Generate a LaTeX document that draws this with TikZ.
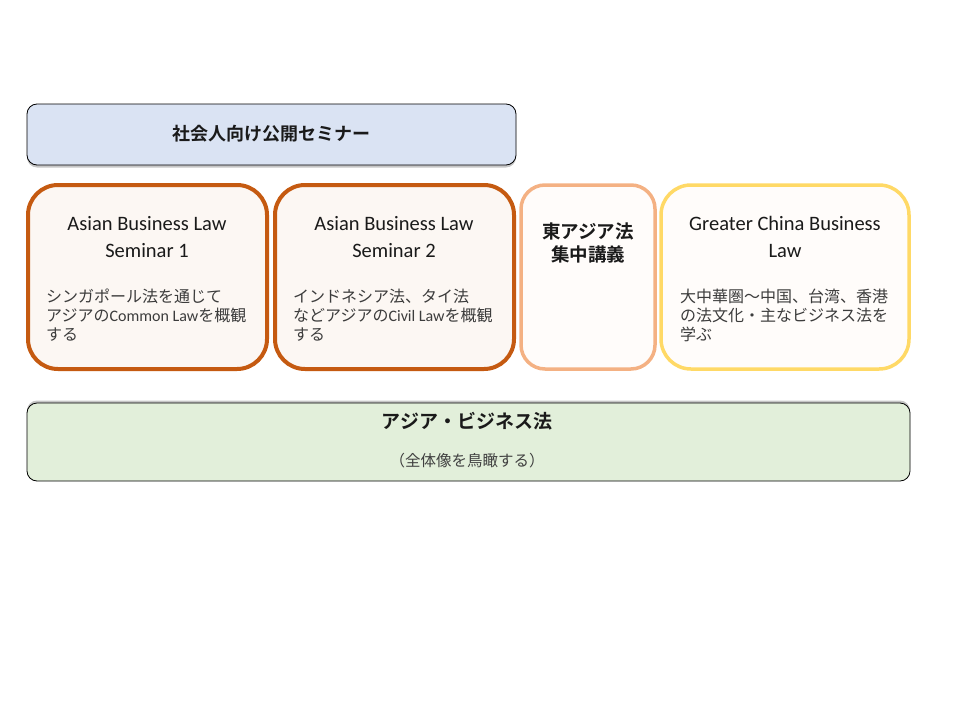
\documentclass[tikz,border=0pt]{standalone}
\usepackage{fontspec}
\setmainfont{Carlito}
\newfontfamily\jp{Noto Sans CJK JP}[BoldFont={Noto Sans CJK JP Bold}]
\usetikzlibrary{shadows}
\definecolor{topfill}{HTML}{DAE3F3}
\definecolor{botfill}{HTML}{E2EFDA}
\definecolor{brown}{HTML}{C55A11}
\definecolor{salmon}{HTML}{F4B183}
\definecolor{gold}{HTML}{FFD966}
\definecolor{warm}{HTML}{FCF7F3}
\definecolor{warmer}{HTML}{FFFCFA}
\definecolor{txt}{HTML}{1A1A1A}
\definecolor{subtxt}{HTML}{404040}
\tikzset{
  banner/.style={draw=black, line width=0.8pt, rounded corners=10pt},
  course/.style={line width=4pt, rounded corners=30pt},
  ttl/.style={font=\fontsize{20.5}{27}\selectfont, text=txt, align=center, inner sep=0pt},
  body/.style={font=\jp\fontsize{16}{19}\selectfont, text=txt!85, align=left, anchor=west, inner sep=0pt},
  head/.style={font=\jp\bfseries\fontsize{18.5}{23}\selectfont, text=txt, align=center, inner sep=0pt},
}
\begin{document}
\begin{tikzpicture}[x=1pt,y=-1pt]
\useasboundingbox (0,0) rectangle (960,720);
% banners
\path[banner, fill=topfill, drop shadow={shadow xshift=0pt, shadow yshift=-2.5pt, opacity=0.45}] (27,104) rectangle (516,165);
\node[head, font=\jp\bfseries\fontsize{18}{23}\selectfont] (seminar) at (271,134) {社会人向け公開セミナー};
% course boxes
\path[course, draw=brown, fill=warm] (28,185) rectangle (267,369);
\path[course, draw=brown, fill=warm] (275,185) rectangle (514,369);
\path[course, line width=3.5pt, rounded corners=24pt, draw=salmon, fill=warmer] (521,185) rectangle (655,369);
\path[course, line width=3.5pt, draw=gold, fill=warmer] (661,185) rectangle (909,369);
% texts
\node[ttl] (t1) at (147,237) {Asian Business Law\\Seminar 1};
\node[body] (b1) at (46,315) {シンガポール法を通じて\\アジアの{\rmfamily Common Law}を概観\\する};
\node[ttl] (t2) at (394,237) {Asian Business Law\\Seminar 2};
\node[body] (b2) at (293,315) {インドネシア法、タイ法\\などアジアの{\rmfamily Civil Law}を概観\\する};
\node[head] (t3) at (588,242.5) {東アジア法\\集中講義};
\node[ttl] (t4) at (785,237) {Greater China Business\\Law};
\node[body] (b4) at (680,315) {大中華圏～中国、台湾、香港\\の法文化・主なビジネス法を\\学ぶ};
% bottom banner
\path[banner, fill=botfill, drop shadow={shadow xshift=0pt, shadow yshift=2.5pt, opacity=0.45}] (27,403) rectangle (910,481);
\node[head, font=\jp\bfseries\fontsize{19}{23}\selectfont] (asia) at (467,421) {アジア・ビジネス法};
\node[font=\jp\fontsize{15.5}{17}\selectfont, text=subtxt, inner sep=0pt] (overview) at (467,461) {（全体像を鳥瞰する）};
\end{tikzpicture}
\end{document}
